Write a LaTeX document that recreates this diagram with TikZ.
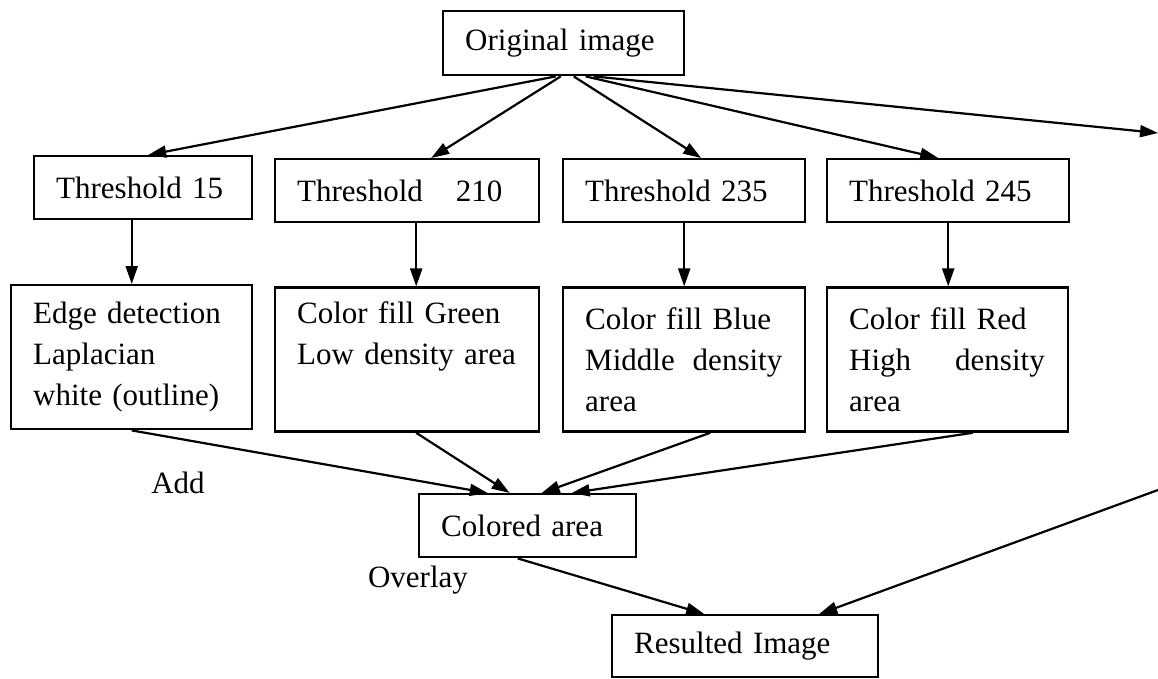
\documentclass[tikz,border=0pt]{standalone}
\usepackage{fontspec}
\setmainfont{Liberation Serif}
\usetikzlibrary{arrows.meta,positioning}
\newcommand{\boxfont}{\fontsize{31}{41}\selectfont}

\begin{document}
\begin{tikzpicture}[
  x=1pt, y=-1pt,
  box/.style={draw=black, line width=2.4pt, rectangle, font=\boxfont,
              align=left, inner xsep=22pt, inner ysep=0pt,
              minimum height=63pt, anchor=north west},
  tallbox/.style={box, minimum height=144pt},
  lbl/.style={font=\boxfont, inner sep=0pt},
  arr/.style={-{Triangle[length=18pt,width=12pt]}, line width=2.2pt, draw=black}
]
\useasboundingbox (0,0) rectangle (1158,678);

% source
\node[box, text width=197pt, minimum height=64pt] (orig) at (442,10) {Original image};

% threshold row
\node[box, text width=174pt] (t15)  at (33,155)  {Threshold 15};
\node[box, text width=220pt] (t210) at (274,158) {Threshold\hspace{33pt}210};
\node[box, text width=198pt] (t235) at (562,158) {Threshold 235};
\node[box, text width=198pt] (t245) at (826,158) {Threshold 245};

% processing row
\node[tallbox, text width=197pt] (b1) at (10,284) {Edge detection\\Laplacian\\white (outline)};
\node[tallbox, text width=220pt, below=63pt of t210.south west, anchor=north west] (b2)
  {Color fill Green\\Low density area\\\strut};
\node[tallbox, text width=198pt, below=63pt of t235.south west, anchor=north west] (b3)
  {Color fill Blue\\\mbox{Middle\hspace{18pt}density}\\area};
\node[tallbox, text width=197pt, below=63pt of t245.south west, anchor=north west] (b4)
  {Color fill Red\\\mbox{High\hspace{44pt}density}\\area};

% results
\node[box, text width=173pt] (col) at (418,493) {Colored area};
\node[box, text width=222pt, minimum height=62pt] (res) at (611,614) {Resulted Image};

\node[lbl] (add) at (178,483) {Add};
\node[lbl] (ovl) at (418,580) {Overlay};

\coordinate (offa) at (1158,133);
\coordinate (offb) at (1158,490);

\draw[arr] ([xshift=-8pt]orig.south) -- ([xshift=5pt]t15.north);
\draw[arr] ([xshift=-3pt]orig.south) -- ([xshift=24pt]t210.north);
\draw[arr] ([xshift=10pt]orig.south) -- ([xshift=17pt]t235.north);
\draw[arr] ([xshift=22pt]orig.south) -- ([xshift=-10pt]t245.north);
\draw[arr] ([xshift=30pt]orig.south) -- (offa);

\draw[arr] (b1.north |- t15.south) -- (b1.north);
\draw[arr] ([xshift=9pt]t210.south) -- ([xshift=9pt]b2.north);
\draw[arr] (t235.south) -- (b3.north);
\draw[arr] (t245.south) -- (t245.south |- b4.north);

\draw[arr] (b1.south) -- ([xshift=-40pt]col.north);
\draw[arr] ([xshift=9pt]b2.south) -- ([xshift=-18pt]col.north);
\draw[arr] ([xshift=26pt]b3.south) -- ([xshift=14pt]col.north);
\draw[arr] ([xshift=25pt]b4.south) -- ([xshift=44pt]col.north);

\draw[arr] ([xshift=-10pt]col.south) -- ([xshift=-41pt]res.north);
\draw[arr] (offb) -- ([xshift=74pt]res.north);
\end{tikzpicture}
\end{document}
